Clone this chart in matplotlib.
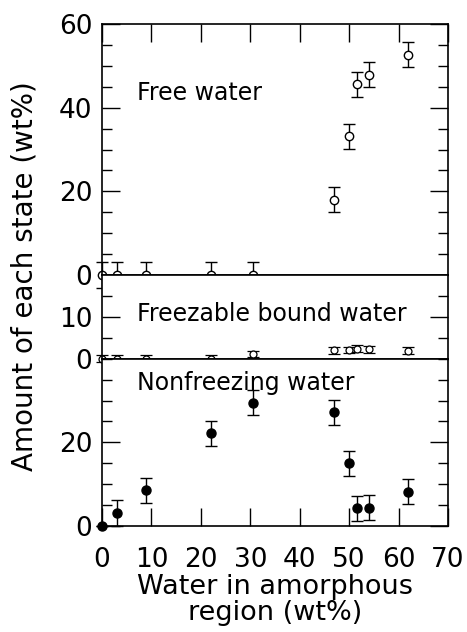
import matplotlib
matplotlib.use("Agg")
import matplotlib.pyplot as plt
from matplotlib.ticker import MultipleLocator, FixedLocator

plt.rcParams['font.family'] = ['DejaVu Sans']

# Water content in the amorphous region (wt%)
water_amorphous = [0, 3, 9, 22, 30.5, 47, 50, 51.5, 54, 62]

# Amount of each water state (wt%) and their error bars
free_water = [0, 0, 0, 0, 0, 18, 33.2, 45.6, 47.9, 52.7]
free_err = [3, 3, 3, 3, 3, 3, 3, 3, 3, 3]

freezable_bound = [0, 0, 0, 0, 1.1, 2.0, 2.1, 2.4, 2.2, 1.9]
freezable_err = [0.8, 0.8, 0.8, 0.8, 0.8, 0.8, 0.8, 0.8, 0.8, 0.8]

nonfreezing = [0, 3.1, 8.5, 22.2, 29.5, 27.2, 15.0, 4.2, 4.4, 8.2]
nonfreezing_err = [0, 3, 3, 3, 3, 3, 3, 3, 3, 3]

fig = plt.figure(figsize=(4.67, 6.32), dpi=100)
gs = fig.add_gridspec(3, 1, height_ratios=[60, 20, 40], hspace=0,
                      left=102/467, right=448/467, top=1-24/632, bottom=1-526/632)
ax_free = fig.add_subplot(gs[0])
ax_fb = fig.add_subplot(gs[1], sharex=ax_free)
ax_nf = fig.add_subplot(gs[2], sharex=ax_free)

lw = 1.2
for ax in (ax_free, ax_fb, ax_nf):
    for s in ax.spines.values():
        s.set_linewidth(lw)
    ax.tick_params(axis='y', which='both', direction='in', left=True, right=True,
                   labelsize=19, width=1.0, pad=7)
    ax.tick_params(axis='y', which='major', length=13)
    ax.tick_params(axis='y', which='minor', length=7)
    ax.tick_params(axis='x', which='both', bottom=False, top=False, labelbottom=False)
    ax.set_xlim(0, 70)

err_kw = dict(ecolor='black', elinewidth=1.0, capsize=4, capthick=1.0, clip_on=False, ls='none')

# Free water
ax_free.errorbar(water_amorphous, free_water, yerr=free_err, fmt='o', ms=6,
                 mfc='white', mec='black', mew=1.0, **err_kw)
ax_free.set_ylim(0, 60)
ax_free.yaxis.set_major_locator(FixedLocator([0, 20, 40, 60]))
ax_free.yaxis.set_minor_locator(MultipleLocator(5))
ax_free.tick_params(axis='x', which='major', top=True, direction='in', length=13, width=1.0)
ax_free.xaxis.set_major_locator(MultipleLocator(10))
ax_free.text(7, 43.5, 'Free water', fontsize=17, va='center', ha='left')

# Freezable bound water
ax_fb.errorbar(water_amorphous, freezable_bound, yerr=freezable_err, fmt='o', ms=5,
               mfc='white', mec='black', mew=0.9, **err_kw)
ax_fb.set_ylim(0, 20)
ax_fb.yaxis.set_major_locator(FixedLocator([0, 10]))
ax_fb.yaxis.set_minor_locator(FixedLocator([5, 15]))
ax_fb.text(7, 10.6, 'Freezable bound water', fontsize=17, va='center', ha='left')

# Nonfreezing water
ax_nf.errorbar(water_amorphous, nonfreezing, yerr=nonfreezing_err, fmt='o', ms=6.5,
               mfc='black', mec='black', **err_kw)
ax_nf.set_ylim(0, 40)
ax_nf.yaxis.set_major_locator(FixedLocator([0, 20]))
ax_nf.yaxis.set_minor_locator(MultipleLocator(5))
ax_nf.text(7, 34.2, 'Nonfreezing water', fontsize=17, va='center', ha='left')
ax_nf.tick_params(axis='x', which='major', bottom=True, labelbottom=True, direction='in',
                  length=13, width=1.0, labelsize=19, pad=15)
ax_nf.set_xlabel('Water in amorphous\nregion (wt%)', fontsize=19.5, linespacing=1.0, labelpad=1)

fig.text(25/467, 1-276/632, 'Amount of each state (wt%)', rotation=90, fontsize=20,
         ha='center', va='center')

fig.savefig('out.png', dpi=100)
